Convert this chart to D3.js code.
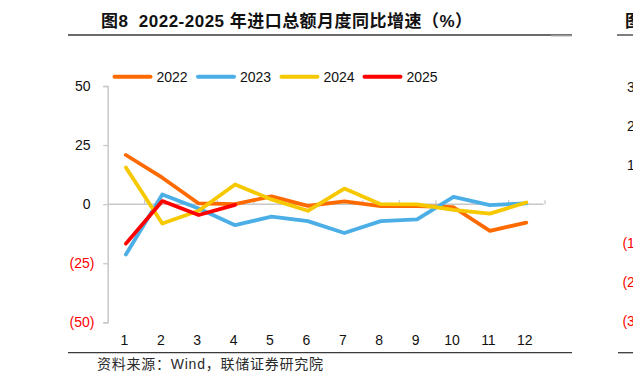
<!DOCTYPE html>
<html>
<head>
<meta charset="utf-8">
<script src="https://cdn.jsdelivr.net/npm/d3@7/dist/d3.min.js"></script>
<style>
  html, body { margin: 0; padding: 0; background: #fff; }
  svg { display: block; }
</style>
</head>
<body>
<svg id="chart" width="633" height="383"></svg>
<script>
// ---- data ----
const months = ["1","2","3","4","5","6","7","8","9","10","11","12"];
const s2022 = [20.8, 11.2, 0.3, 0.0, 3.3, -0.7, 1.2, -0.8, -0.8, -1.3, -11.3, -7.8];
const s2023 = [-21.3, 4.1, -1.8, -8.9, -5.3, -7.2, -12.2, -7.2, -6.4, 3.1, -0.4, 0.3];
const s2024 = [15.5, -8.2, -2.8, 8.3, 2.0, -2.8, 6.6, 0.0, -0.1, -2.4, -4.0, 0.7];
const s2025 = [-16.7, 1.3, -4.6, -0.3];
const seriesNames = ["2022", "2023", "2024", "2025"];
const seriesColors = ["#FF6A00", "#4BAEE6", "#F5C800", "#FF0000"];
const yTicks = [50, 25, 0, -25, -50];
const rightTicks = [30, 20, 10, 0, -10, -20, -30];
const titleText = "图8  2022-2025 年进口总额月度同比增速（%）";
const sourceText = "资料来源：Wind，联储证券研究院";

const svg = d3.select("#chart");
const fontLatin = "'Liberation Sans', Arial, 'Noto Sans CJK SC', sans-serif";

const x = d3.scaleBand().domain(months).range([107.7, 544.5]);
const y = d3.scaleLinear().domain([-50, 50]).range([322.3, 86]);
const fmt = v => v < 0 ? "(" + Math.abs(v) + ")" : String(v);

// title
svg.append("text")
  .attr("x", 101).attr("y", 26.5)
  .attr("font-family", fontLatin)
  .attr("font-weight", "bold")
  .attr("font-size", 17)
  .attr("fill", "#111")
  .attr("textLength", 371)
  .attr("lengthAdjust", "spacing")
  .style("white-space", "pre")
  .text(titleText);

// title rule and bottom rule
svg.append("line").attr("x1", 68).attr("x2", 572).attr("y1", 35).attr("y2", 35)
  .attr("stroke", "#3a3a3a").attr("stroke-width", 1.3);
svg.append("line").attr("x1", 551).attr("x2", 572).attr("y1", 35.6).attr("y2", 35.6)
  .attr("stroke", "#9a9a9a").attr("stroke-width", 1.6);
svg.append("line").attr("x1", 68).attr("x2", 572).attr("y1", 352.7).attr("y2", 352.7)
  .attr("stroke", "#3a3a3a").attr("stroke-width", 1.3);

// source
svg.append("text")
  .attr("x", 97).attr("y", 368.5)
  .attr("font-family", fontLatin)
  .attr("font-size", 14)
  .attr("fill", "#2a2a2a")
  .attr("textLength", 226)
  .attr("lengthAdjust", "spacing")
  .text(sourceText);

// y axis
const yAxis = d3.axisLeft(y).tickValues(yTicks).tickSize(4.5).tickPadding(0).tickFormat("");
const gy = svg.append("g").attr("transform", "translate(107.7,0)").call(yAxis);
gy.select(".domain").attr("stroke", "#c8c8c8").attr("stroke-width", 1.5);
gy.selectAll(".tick line").attr("stroke", "#c8c8c8").attr("stroke-width", 1.3);

svg.append("g").selectAll("text").data(yTicks).join("text")
  .attr("x", d => d < 0 ? 94.5 : 90.5)
  .attr("y", d => y(d) + 5)
  .attr("text-anchor", "end")
  .attr("font-family", fontLatin)
  .attr("font-size", 14)
  .attr("fill", d => d < 0 ? "#FF0000" : "#111")
  .text(fmt);

// x axis on zero line, ticks upward at band boundaries
const xAxis = d3.axisTop(d3.scaleLinear().domain([0, 12]).range(x.range()))
  .tickValues(d3.range(1, 13)).tickSize(4).tickFormat("");
const gx = svg.append("g").attr("transform", `translate(0,${y(0)})`).call(xAxis);
gx.select(".domain").attr("stroke", "none");
gx.append("line").attr("x1", 107.7).attr("x2", 543.5).attr("y1", 0).attr("y2", 0)
  .attr("stroke", "#c8c8c8").attr("stroke-width", 1.5);
gx.selectAll(".tick line").attr("stroke", "#c8c8c8").attr("stroke-width", 1.3);

svg.append("g").selectAll("text").data(months).join("text")
  .attr("x", d => x(d) + x.bandwidth() / 2 - 1.5)
  .attr("y", 345)
  .attr("text-anchor", "middle")
  .attr("font-family", fontLatin)
  .attr("font-size", 14)
  .attr("fill", "#111")
  .text(d => d);

// lines
const allSeries = [s2022, s2023, s2024, s2025];
const line = d3.line()
  .x((d, i) => x(months[i]) + x.bandwidth() / 2)
  .y(d => y(d));
svg.append("g").selectAll("path").data(allSeries).join("path")
  .attr("d", d => line(d))
  .attr("fill", "none")
  .attr("stroke", (d, i) => seriesColors[i])
  .attr("stroke-width", 3.8)
  .attr("stroke-linejoin", "round")
  .attr("stroke-linecap", "round");

// legend
const legendX = [113, 196.5, 280, 363];
const lg = svg.append("g").selectAll("g").data(seriesNames).join("g")
  .attr("transform", (d, i) => `translate(${legendX[i]},76.7)`);
lg.append("line").attr("x1", 1.5).attr("x2", 37.5).attr("y1", 0).attr("y2", 0)
  .attr("stroke", (d, i) => seriesColors[i]).attr("stroke-width", 4)
  .attr("stroke-linecap", "round");
lg.append("text").attr("x", 43.5).attr("y", 5)
  .attr("font-family", fontLatin).attr("font-size", 14).attr("fill", "#111")
  .text(d => d);

// neighbouring chart fragment on the right edge
svg.append("text").attr("x", 625).attr("y", 26.5)
  .attr("font-family", fontLatin).attr("font-weight", "bold").attr("font-size", 17)
  .attr("fill", "#111").text("图9");
svg.append("line").attr("x1", 617).attr("x2", 633).attr("y1", 35).attr("y2", 35)
  .attr("stroke", "#3a3a3a").attr("stroke-width", 1.3);
svg.append("line").attr("x1", 618).attr("x2", 633).attr("y1", 352.7).attr("y2", 352.7)
  .attr("stroke", "#3a3a3a").attr("stroke-width", 1.3);
const yR = d3.scaleLinear().domain([-30, 30]).range([321, 87]);
svg.append("g").selectAll("text").data(rightTicks).join("text")
  .attr("x", d => d < 0 ? 647.3 : 642.6)
  .attr("y", d => yR(d) + 5)
  .attr("text-anchor", "end")
  .attr("font-family", fontLatin)
  .attr("font-size", 14)
  .attr("fill", d => d < 0 ? "#FF0000" : "#111")
  .text(fmt);
</script>
</body>
</html>
